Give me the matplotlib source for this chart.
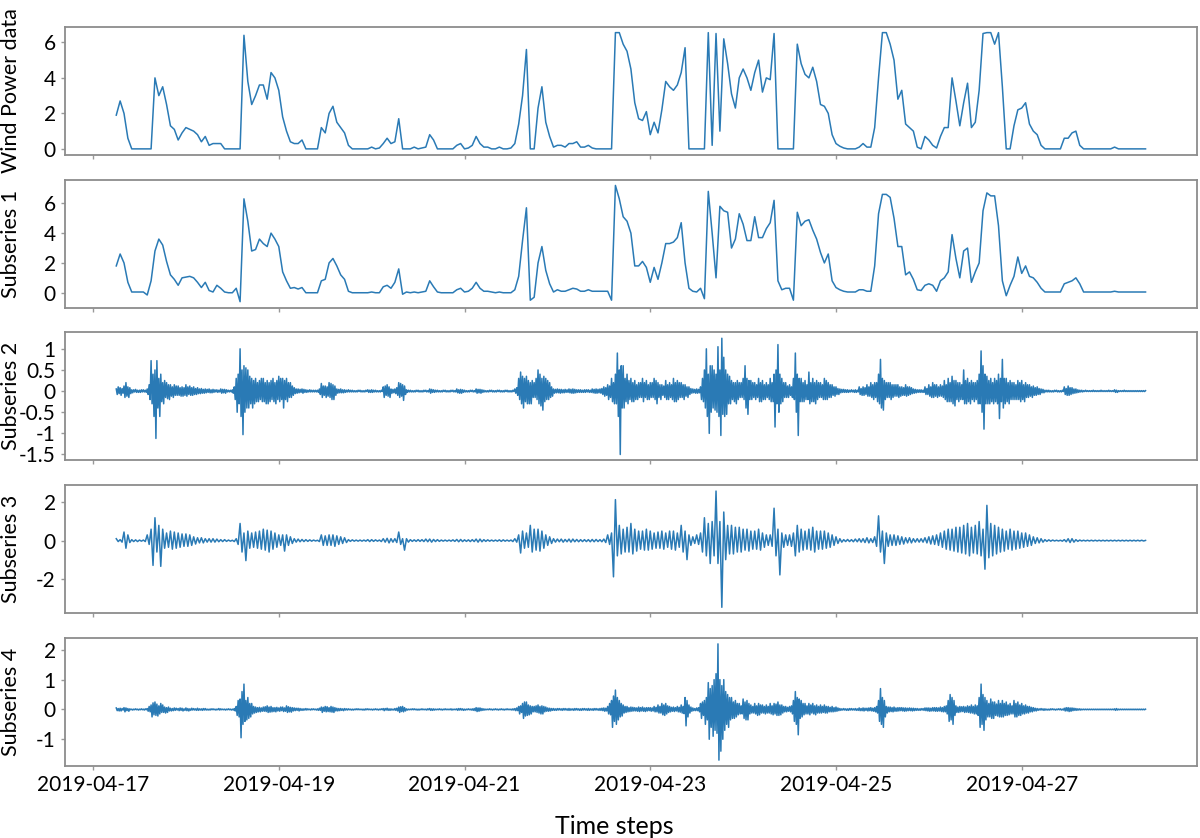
import matplotlib
matplotlib.use('Agg')
import matplotlib.pyplot as plt
import matplotlib.dates as mdates
import matplotlib.ticker as mticker
import numpy as np
import pandas as pd

plt.rcParams['font.family'] = ['Lato', 'DejaVu Sans']
plt.rcParams['axes.unicode_minus'] = False

start_time = '2019-04-17 06:00'

# wind power and the low-frequency subseries, hourly
wind_power = [
    1.9, 2.7, 2.0, 0.6, 0, 0, 0, 0, 0, 0, 4.0, 3.0,
    3.5, 2.5, 1.3, 1.1, 0.5, 0.9, 1.2, 1.1, 1.0, 0.8, 0.4, 0.7,
    0.2, 0.3, 0.3, 0.3, 0, 0, 0, 0, 0, 6.4, 3.8, 2.5,
    3.0, 3.6, 3.6, 2.8, 4.3, 4.0, 3.3, 1.8, 1.0, 0.4, 0.3, 0.3,
    0.5, 0, 0, 0, 0, 1.2, 0.9, 2.0, 2.4, 1.5, 1.2, 0.9,
    0.2, 0, 0, 0, 0, 0, 0.1, 0, 0.05, 0.3, 0.6, 0.3,
    0.4, 1.7, 0, 0, 0, 0.1, 0, 0.05, 0.1, 0.8, 0.5, 0,
    0, 0, 0, 0, 0.2, 0.3, 0, 0.05, 0.2, 0.7, 0.3, 0.1,
    0.1, 0, 0, 0.1, 0, 0, 0.05, 0.3, 1.4, 3.0, 5.6, 0,
    0, 2.3, 3.5, 1.5, 0.7, 0.1, 0.2, 0.2, 0.1, 0.3, 0.3, 0.4,
    0.1, 0.1, 0.2, 0.05, 0, 0, 0, 0, 0, 6.55, 6.55, 5.9,
    5.5, 4.5, 2.6, 1.7, 1.6, 2.1, 0.8, 1.5, 0.9, 2.2, 3.8, 3.5,
    3.3, 3.6, 4.3, 5.7, 0, 0, 0, 0, 0, 6.55, 0.2, 6.5,
    1.0, 6.2, 4.8, 3.1, 2.3, 4.0, 4.5, 4.0, 3.3, 4.3, 5.0, 3.2,
    4.0, 3.9, 6.5, 0, 0, 0, 0, 0, 5.9, 4.8, 4.2, 4.0,
    4.6, 3.8, 2.5, 2.4, 2.0, 0.8, 0.3, 0.15, 0.05, 0, 0, 0,
    0.1, 0.3, 0.1, 0.1, 1.2, 4.0, 6.55, 6.55, 5.9, 5.0, 2.8, 3.3,
    1.4, 1.2, 1.0, 0.1, 0, 0.7, 0.5, 0.2, 0.05, 0.7, 1.2, 1.2,
    4.0, 2.7, 1.3, 2.6, 3.7, 1.2, 1.5, 3.3, 6.5, 6.55, 6.55, 5.9,
    6.55, 3.5, 0, 0, 1.3, 2.2, 2.3, 2.6, 1.4, 1.0, 0.8, 0.2,
    0, 0, 0, 0, 0, 0.6, 0.6, 0.9, 1.0, 0.2, 0, 0,
    0, 0, 0, 0, 0, 0, 0.1, 0, 0, 0, 0, 0,
    0, 0, 0]

subseries_1 = [
    1.8, 2.6, 2.0, 0.7, 0.05, 0.05, 0.05, 0.05, -0.15, 0.8, 2.8, 3.6,
    3.2, 2.1, 1.2, 0.9, 0.5, 1.0, 1.05, 1.1, 1.0, 0.7, 0.35, 0.7,
    0.15, 0.05, 0.5, 0.3, 0.05, 0, 0, 0.3, -0.6, 6.3, 4.8, 2.8,
    2.9, 3.6, 3.3, 3.1, 4.0, 3.6, 3.1, 1.4, 0.8, 0.3, 0.35, 0.25,
    0.35, 0, 0, 0, 0, 0.8, 0.9, 2.0, 2.3, 1.8, 1.2, 0.9,
    0.1, 0, 0, 0, 0, 0, 0.05, 0, 0, 0.4, 0.5, 0.3,
    0.7, 1.6, -0.1, 0.05, 0, 0.05, 0, 0.05, 0.1, 0.8, 0.4, 0.05,
    0, 0, 0, 0, 0.2, 0.3, 0.05, 0.1, 0.3, 0.7, 0.3, 0.1,
    0.1, 0.05, 0, 0.05, 0, 0, 0, 0.2, 1.1, 3.5, 5.7, -0.5,
    -0.3, 2.0, 3.1, 1.5, 0.6, 0.05, 0.2, 0.1, 0.1, 0.2, 0.3, 0.25,
    0.1, 0.1, 0.2, 0.1, 0.1, 0.1, 0.1, 0.1, -0.5, 7.2, 6.3, 5.1,
    4.8, 4.0, 1.8, 1.8, 2.1, 1.7, 0.7, 1.7, 0.9, 2.0, 3.3, 3.3,
    3.4, 3.7, 4.7, 2.0, 0.3, 0.1, 0.05, 0.3, -0.4, 6.8, 4.0, 1.0,
    5.8, 5.5, 5.4, 3.0, 3.6, 5.3, 4.6, 3.5, 3.5, 5.1, 3.7, 3.7,
    4.3, 4.7, 6.2, 0.8, 0.2, 0.3, 0.3, -0.5, 5.4, 4.5, 4.8, 4.9,
    4.2, 3.6, 2.7, 2.0, 2.6, 0.8, 0.35, 0.2, 0.1, 0.05, 0.05, 0.05,
    0.2, 0.2, 0.1, 0.1, 1.8, 5.3, 6.6, 6.6, 6.4, 5.0, 3.1, 3.1,
    1.2, 1.4, 0.9, 0.2, 0.15, 0.5, 0.6, 0.5, 0.1, 0.8, 1.0, 1.4,
    3.9, 2.3, 1.0, 2.8, 3.0, 0.7, 1.4, 2.0, 5.5, 6.7, 6.5, 6.5,
    4.5, 0.8, -0.2, 0.5, 1.1, 2.4, 1.3, 1.8, 1.1, 1.0, 0.7, 0.3,
    0.05, 0.05, 0.05, 0.05, 0.05, 0.6, 0.7, 0.8, 1.0, 0.6, 0.05, 0.05,
    0.05, 0.05, 0.05, 0.05, 0.05, 0.05, 0.1, 0.05, 0.05, 0.05, 0.05, 0.05,
    0.05, 0.05, 0.05]

# high-frequency subseries, 15-min samples (values in units of 0.01)
subseries_2 = np.array([
    5, -8, 10, -6, 8, -10, 6, -5, 12, -15, 20, -12, 10, -15, 8, -6, 3, -4, 3, -2, 4, -3, 2, -3,
    2, -3, 3, -2, 3, -2, 2, -3, 5, -8, 15, -20, 72, -30, 40, -60, 50, -112, 72, -40, 30, -60, 40, -25,
    20, -30, 25, -15, 20, -18, 15, -20, 15, -12, 10, -15, 15, -10, 12, -10, 12, -10, 8, -12, 10, -12, 8, -10,
    15, -12, 10, -8, 12, -10, 8, -10, 10, -8, 6, -8, 8, -6, 5, -6, 6, -5, 4, -5, 5, -4, 4, -3,
    5, -4, 3, -4, 4, -3, 3, -2, 3, -3, 2, -2, 5, -5, 4, -4, 4, -5, 3, -2, 2, -2, 2, -2,
    3, -5, 10, -20, 30, -50, 40, -30, 100, -60, 50, -103, 60, -50, 55, -40, 50, -40, 35, -30, 30, -40, 25, -30,
    30, -25, 20, -25, 25, -20, 30, -25, 30, -25, 20, -30, 25, -30, 20, -25, 25, -20, 30, -25, 20, -30, 25, -20,
    35, -25, 30, -20, 30, -40, 25, -20, 30, -25, 20, -15, 20, -15, 12, -10, 8, -6, 5, -5, 5, -4, 4, -3,
    5, -5, 4, -3, 3, -3, 2, -2, 3, -2, 2, -2, 2, -2, 2, -2, 2, -3, 5, -8, 18, -15, 12, -10,
    12, -15, 10, -12, 20, -15, 18, -20, 15, -20, 12, -10, 5, -5, 4, -4, 5, -4, 3, -4, 3, -3, 2, -2,
    3, -2, 2, -2, 2, -2, 1, -2, 1, -2, 2, -1, 2, -2, 1, -2, 1, -2, 2, -1, 3, -3, 2, -3,
    3, -3, 2, -2, 2, -2, 1, -2, 1, -2, 2, -1, 10, -15, 12, -10, 15, -12, 10, -15, 5, -5, 4, -4,
    5, -6, 8, -10, 20, -15, 18, -12, 15, -22, 12, -8, 3, -3, 2, -2, 2, -2, 1, -2, 1, -2, 2, -1,
    2, -2, 1, -2, 1, -2, 2, -1, 2, -2, 1, -2, 5, -5, 4, -3, 3, -3, 2, -2, 2, -2, 1, -2,
    1, -2, 2, -1, 2, -2, 1, -2, 1, -2, 2, -1, 2, -2, 1, -2, 5, -4, 3, -5, 4, -5, 3, -3,
    2, -2, 1, -2, 1, -2, 2, -1, 2, -2, 1, -2, 5, -5, 4, -4, 4, -5, 3, -3, 2, -2, 1, -2,
    1, -2, 2, -1, 2, -2, 1, -2, 1, -2, 2, -1, 2, -2, 1, -2, 1, -2, 2, -1, 2, -2, 1, -2,
    1, -2, 2, -1, 5, -5, 8, -10, 30, -20, 45, -30, 35, -40, 30, -25, 35, -30, 25, -30, 20, -30, 25, -15,
    20, -15, 30, -20, 50, -30, 40, -35, 30, -45, 35, -25, 30, -20, 25, -20, 20, -15, 10, -12, 5, -5, 4, -4,
    5, -4, 4, -5, 4, -4, 3, -4, 4, -3, 3, -3, 5, -4, 4, -5, 5, -5, 4, -4, 3, -3, 3, -3,
    3, -3, 2, -3, 3, -3, 3, -2, 3, -3, 2, -3, 5, -4, 4, -5, 5, -5, 4, -4, 5, -5, 6, -8,
    10, -12, 8, -10, 15, -20, 12, -15, 30, -25, 20, -30, 40, -30, 90, -60, 50, -150, 60, -40, 60, -40, 30, -25,
    40, -30, 25, -20, 30, -25, 20, -25, 25, -20, 15, -20, 20, -15, 20, -15, 30, -25, 20, -15, 25, -20, 15, -20,
    20, -15, 20, -15, 30, -20, 25, -30, 20, -15, 15, -20, 15, -10, 12, -15, 25, -20, 15, -20, 20, -15, 15, -20,
    30, -25, 20, -25, 25, -20, 20, -15, 20, -15, 15, -20, 15, -12, 10, -15, 10, -8, 6, -5, 5, -4, 4, -5,
    5, -5, 4, -4, 10, -20, 30, -25, 50, -40, 100, -60, 40, -100, 60, -50, 60, -40, 50, -45, 40, -50, 105, -60,
    50, -105, 125, -55, 80, -60, 50, -55, 40, -30, 35, -30, 25, -20, 20, -25, 20, -30, 25, -20, 20, -15, 20, -15,
    30, -20, 60, -40, 30, -55, 25, -20, 25, -20, 20, -15, 20, -20, 15, -15, 30, -25, 20, -25, 25, -20, 15, -20,
    20, -15, 15, -20, 30, -25, 20, -25, 40, -85, 50, -30, 110, -50, 40, -30, 30, -25, 20, -15, 20, -15, 12, -15,
    15, -10, 10, -15, 30, -20, 90, -50, 40, -105, 30, -25, 30, -25, 20, -25, 25, -20, 15, -20, 45, -30, 20, -25,
    30, -25, 20, -30, 25, -20, 20, -15, 20, -15, 15, -20, 30, -20, 25, -20, 20, -15, 15, -15, 15, -10, 10, -12,
    10, -8, 6, -8, 5, -4, 4, -3, 4, -3, 3, -3, 3, -3, 2, -2, 3, -2, 2, -3, 3, -3, 2, -2,
    10, -8, 6, -10, 10, -10, 8, -8, 15, -12, 10, -12, 20, -15, 15, -20, 20, -15, 20, -25, 40, -30, 75, -40,
    30, -45, 25, -20, 20, -15, 20, -15, 20, -20, 15, -15, 15, -12, 15, -12, 15, -15, 10, -12, 10, -10, 8, -10,
    15, -12, 10, -10, 10, -8, 8, -6, 5, -5, 4, -4, 3, -3, 3, -3, 3, -3, 2, -3, 10, -8, 6, -8,
    15, -12, 10, -15, 20, -15, 15, -12, 15, -15, 10, -12, 15, -12, 12, -15, 25, -20, 15, -25, 30, -25, 20, -25,
    35, -30, 25, -35, 25, -20, 20, -25, 20, -20, 15, -20, 50, -30, 25, -30, 30, -25, 20, -30, 25, -20, 20, -25,
    20, -20, 25, -30, 40, -30, 95, -50, 60, -90, 40, -30, 35, -30, 25, -30, 30, -25, 20, -30, 30, -25, 25, -30,
    40, -65, 30, -25, 75, -40, 30, -30, 30, -25, 20, -30, 25, -20, 20, -20, 20, -20, 15, -20, 25, -20, 20, -25,
    25, -20, 15, -25, 20, -15, 15, -15, 15, -12, 10, -15, 12, -10, 8, -10, 10, -8, 6, -8, 5, -4, 4, -4,
    2, -2, 2, -2, 2, -2, 1, -2, 1, -2, 2, -1, 2, -2, 1, -2, 1, -2, 2, -1, 10, -8, 6, -10,
    12, -10, 8, -8, 8, -6, 5, -5, 5, -4, 3, -3, 2, -2, 2, -2, 1, -1, 2, -1, 1, -1, 1, -1,
    1, -1, 2, -1, 1, -1, 1, -1, 1, -1, 2, -1, 1, -1, 1, -1, 1, -1, 2, -1, 1, -1, 1, -1,
    3, -3, 2, -3, 1, -1, 1, -1, 1, -1, 2, -1, 1, -1, 1, -1, 1, -1, 1, -1, 1, -1, 1, -1,
    1, -1, 1, -1, 1, -1, 1, -1, 1]) * 0.01

# 30-min samples (values in units of 0.01)
subseries_3 = np.array([
    10, -5, 5, -8, 45, -40, 30, -10, 5, -5, 4, -5,
    3, -3, 3, -5, 30, -20, 60, -130, 120, -60, 80, -135,
    60, -40, 40, -35, 50, -45, 45, -40, 40, -35, 35, -30,
    35, -30, 30, -25, 20, -18, 15, -12, 15, -12, 10, -8,
    10, -8, 10, -8, 8, -6, 5, -5, 5, -4, 3, -3,
    2, -5, 10, -20, 90, -60, 40, -105, 50, -40, 40, -35,
    45, -40, 50, -45, 60, -50, 55, -60, 50, -45, 40, -35,
    30, -25, 30, -55, 30, -25, 20, -15, 10, -8, 8, -6,
    6, -5, 5, -4, 4, -3, 3, -2, 2, -5, 30, -25,
    25, -25, 30, -25, 30, -30, 25, -20, 20, -15, 15, -10,
    5, -4, 4, -3, 3, -3, 3, -3, 3, -3, 5, -5,
    5, -4, 4, -3, 3, -5, 10, -8, 12, -12, 10, -8,
    10, -10, 45, -20, 10, -50, 10, -8, 5, -4, 4, -4,
    5, -4, 5, -5, 8, -6, 8, -8, 6, -5, 5, -4,
    3, -3, 3, -3, 3, -3, 4, -4, 6, -6, 6, -5,
    4, -4, 4, -5, 5, -5, 8, -8, 8, -6, 5, -4,
    4, -3, 3, -3, 3, -3, 4, -4, 4, -3, 3, -3,
    3, -5, 10, -8, 30, -65, 50, -40, 40, -35, 80, -60,
    60, -50, 60, -55, 50, -40, 30, -25, 20, -15, 10, -8,
    8, -6, 8, -8, 6, -6, 8, -8, 8, -6, 6, -6,
    5, -5, 5, -5, 5, -6, 6, -6, 6, -5, 5, -6,
    8, -10, 30, -20, 40, -190, 215, -80, 80, -70, 60, -60,
    70, -60, 90, -70, 60, -55, 50, -45, 50, -50, 60, -50,
    50, -45, 40, -40, 45, -40, 50, -45, 40, -35, 50, -45,
    50, -50, 40, -35, 80, -60, 50, -100, 30, -25, 20, -15,
    30, -20, 40, -60, 120, -80, 90, -120, 100, -80, 260, -120,
    100, -350, 150, -100, 80, -70, 80, -70, 70, -60, 70, -60,
    60, -50, 60, -55, 50, -45, 50, -45, 60, -50, 40, -35,
    30, -25, 30, -30, 170, -80, 60, -180, 40, -35, 30, -25,
    30, -30, 40, -80, 80, -60, 60, -50, 50, -45, 60, -50,
    70, -60, 50, -45, 50, -45, 50, -40, 40, -35, 30, -25,
    20, -15, 10, -8, 5, -5, 6, -5, 5, -6, 8, -6,
    10, -8, 10, -10, 15, -12, 10, -10, 20, -30, 130, -60,
    50, -120, 40, -30, 30, -25, 30, -25, 25, -20, 20, -18,
    15, -12, 15, -12, 10, -8, 10, -8, 10, -8, 15, -12,
    20, -18, 25, -20, 30, -25, 40, -35, 50, -45, 60, -50,
    60, -55, 70, -60, 70, -65, 80, -70, 90, -80, 70, -65,
    80, -70, 100, -80, 60, -150, 185, -90, 90, -80, 80, -70,
    70, -60, 60, -55, 50, -45, 60, -50, 50, -45, 50, -40,
    40, -35, 40, -30, 30, -25, 20, -15, 15, -12, 10, -8,
    5, -4, 4, -3, 3, -2, 2, -2, 2, -3, 5, -6,
    10, -10, 10, -8, 5, -4, 3, -2, 2, -2, 2, -2,
    2, -2, 2, -2, 2, -2, 2, -2, 2, -2, 2, -2,
    2, -2, 2, -2, 2, -2, 2, -2, 2, -2, 2, -2,
    2, -2, 2, -2, 1]) * 0.01

# 15-min samples (values in units of 0.01)
subseries_4 = np.array([
    5, -4, 3, -5, 4, -5, 3, -2, 6, -8, 5, -4, 3, -6, 2, -1, 1, -2, 1, -1, 2, -1, 1, -2,
    1, -1, 2, -1, 1, -2, 2, -1, 3, -6, 10, -8, 15, -25, 22, -18, 25, -20, 18, -22, 12, -15, 20, -10,
    15, -10, 8, -12, 6, -10, 8, -5, 4, -5, 3, -4, 5, -3, 4, -2, 3, -4, 5, -3, 4, -5, 2, -3,
    5, -4, 3, -5, 2, -3, 4, -2, 3, -2, 2, -3, 4, -3, 2, -2, 2, -3, 3, -2, 3, -2, 1, -2,
    1, -2, 2, -1, 2, -1, 1, -2, 1, -1, 3, -2, 2, -1, 1, -1, 1, -2, 1, -1, 2, -1, 1, -2,
    1, -2, 3, -5, 10, -20, 30, -25, 35, -95, 60, -50, 85, -40, 30, -35, 40, -30, 20, -25, 20, -15, 10, -12,
    8, -10, 6, -8, 7, -8, 5, -6, 8, -6, 9, -7, 12, -10, 8, -9, 10, -8, 6, -7, 6, -8, 7, -5,
    5, -6, 8, -4, 8, -7, 5, -6, 12, -10, 9, -8, 7, -9, 6, -5, 5, -4, 4, -3, 4, -5, 3, -3,
    2, -3, 2, -2, 3, -2, 2, -1, 1, -2, 2, -1, 2, -1, 1, -2, 2, -3, 4, -3, 8, -10, 7, -6,
    10, -8, 9, -7, 6, -8, 10, -9, 8, -10, 6, -5, 4, -5, 3, -4, 3, -3, 2, -4, 3, -2, 2, -2,
    2, -1, 1, -2, 1, -2, 1, -1, 2, -1, 2, -1, 1, -1, 1, -2, 1, -2, 2, -1, 2, -1, 1, -1,
    1, -2, 1, -1, 2, -1, 1, -2, 1, -1, 2, -1, 3, -4, 3, -2, 4, -3, 2, -3, 2, -2, 1, -2,
    3, -3, 4, -5, 8, -10, 9, -7, 10, -8, 6, -5, 2, -2, 1, -1, 1, -1, 2, -1, 2, -1, 1, -2,
    1, -2, 1, -1, 2, -1, 1, -1, 1, -2, 2, -1, 3, -3, 2, -3, 2, -2, 1, -1, 1, -1, 2, -1,
    1, -2, 1, -1, 2, -1, 1, -1, 1, -1, 2, -2, 1, -1, 1, -1, 2, -3, 3, -2, 3, -2, 2, -3,
    1, -2, 1, -1, 2, -1, 1, -2, 2, -3, 3, -4, 6, -7, 5, -6, 5, -4, 3, -3, 2, -2, 1, -1,
    1, -1, 2, -1, 1, -2, 1, -1, 2, -1, 1, -2, 1, -1, 2, -1, 1, -2, 1, -1, 2, -1, 1, -1,
    1, -2, 2, -2, 3, -4, 5, -4, 10, -15, 12, -10, 20, -30, 25, -22, 25, -20, 15, -18, 12, -15, 10, -8,
    10, -8, 12, -10, 15, -12, 10, -15, 12, -15, 10, -8, 8, -6, 5, -6, 4, -5, 3, -3, 3, -3, 2, -3,
    3, -2, 3, -2, 2, -3, 3, -2, 3, -2, 2, -3, 3, -3, 2, -2, 2, -3, 3, -2, 3, -2, 2, -3,
    2, -3, 3, -2, 3, -2, 2, -3, 3, -3, 2, -2, 2, -3, 3, -2, 3, -2, 2, -3, 3, -3, 4, -4,
    5, -6, 4, -5, 10, -15, 20, -18, 30, -60, 45, -40, 65, -50, 40, -35, 30, -25, 20, -22, 15, -12, 10, -10,
    10, -8, 6, -7, 8, -6, 7, -5, 6, -5, 5, -6, 8, -7, 6, -5, 8, -6, 5, -7, 6, -5, 6, -4,
    6, -6, 5, -5, 10, -8, 7, -8, 15, -12, 10, -12, 20, -18, 15, -20, 20, -15, 12, -10, 10, -8, 7, -6,
    8, -7, 6, -5, 10, -8, 7, -9, 15, -12, 10, -14, 40, -55, 30, -25, 15, -12, 8, -6, 5, -4, 3, -4,
    5, -4, 6, -8, 20, -30, 25, -20, 30, -50, 40, -35, 90, -100, 70, -60, 80, -90, 100, -70, 120, -80, 220, -170,
    100, -140, 80, -100, 100, -70, 60, -50, 50, -60, 40, -35, 40, -30, 25, -30, 30, -25, 20, -18, 20, -15, 12, -15,
    35, -30, 25, -35, 30, -35, 20, -15, 15, -12, 10, -12, 20, -15, 12, -20, 20, -18, 15, -12, 15, -12, 10, -15,
    15, -12, 10, -12, 20, -15, 12, -18, 20, -15, 18, -20, 25, -20, 15, -18, 15, -12, 10, -8, 10, -8, 7, -6,
    10, -8, 12, -15, 30, -40, 60, -50, 40, -85, 35, -30, 30, -25, 20, -18, 20, -15, 12, -15, 20, -18, 15, -12,
    20, -15, 12, -18, 15, -12, 10, -12, 15, -12, 10, -10, 15, -12, 10, -12, 10, -8, 7, -8, 10, -8, 6, -7,
    8, -6, 5, -4, 3, -3, 2, -2, 3, -2, 2, -3, 2, -3, 3, -2, 3, -2, 2, -2, 3, -3, 2, -3,
    5, -4, 3, -4, 5, -5, 4, -3, 4, -5, 5, -4, 6, -5, 4, -6, 6, -8, 10, -12, 30, -40, 70, -50,
    40, -60, 30, -25, 10, -12, 8, -8, 8, -7, 6, -8, 8, -6, 5, -6, 6, -5, 6, -4, 6, -5, 5, -6,
    5, -5, 4, -4, 5, -4, 4, -5, 4, -4, 3, -3, 3, -3, 2, -3, 3, -2, 3, -3, 5, -4, 5, -5,
    5, -6, 4, -5, 6, -5, 6, -6, 6, -6, 5, -5, 8, -7, 6, -8, 10, -8, 12, -15, 30, -40, 50, -35,
    40, -50, 30, -20, 12, -10, 8, -10, 10, -8, 9, -7, 10, -10, 8, -9, 12, -10, 10, -12, 15, -12, 10, -15,
    15, -15, 12, -20, 40, -60, 85, -50, 50, -70, 40, -35, 30, -25, 20, -25, 35, -30, 25, -30, 25, -20, 18, -22,
    30, -25, 20, -25, 30, -25, 20, -20, 25, -20, 15, -18, 20, -15, 12, -15, 30, -25, 20, -25, 25, -20, 15, -20,
    20, -15, 12, -15, 15, -12, 10, -12, 10, -8, 7, -8, 6, -5, 4, -5, 3, -3, 2, -2, 3, -2, 2, -3,
    2, -2, 1, -2, 1, -2, 2, -1, 2, -1, 1, -2, 1, -1, 2, -1, 2, -2, 1, -2, 4, -5, 6, -5,
    6, -7, 5, -6, 5, -4, 4, -3, 3, -3, 2, -2, 2, -2, 1, -1, 1, -1, 1, -1, 1, -1, 1, -1,
    1, -1, 1, -1, 1, -1, 1, -1, 1, -1, 1, -1, 1, -1, 1, -1, 1, -1, 1, -1, 1, -1, 1, -1,
    2, -3, 3, -2, 1, -1, 1, -1, 1, -1, 1, -1, 1, -1, 1, -1, 1, -1, 1, -1, 1, -1, 1, -1,
    1, -1, 1, -1, 1, -1, 1, -1, 1]) * 0.01

series = [
    (wind_power, 'h', 'Wind Power data', 2),
    (subseries_1, 'h', 'Subseries 1', 2),
    (subseries_2, '15min', 'Subseries 2', 0.5),
    (subseries_3, '30min', 'Subseries 3', 2),
    (subseries_4, '15min', 'Subseries 4', 1),
]

fig, axes = plt.subplots(5, 1, figsize=(12, 8.38), dpi=100, sharex=True)
fig.subplots_adjust(left=0.054, right=0.9975, top=0.968, bottom=0.086, hspace=0.195)

for ax, (values, freq, label, step) in zip(axes, series):
    times = pd.date_range(start_time, periods=len(values), freq=freq)
    ax.plot(times, values, color='#2a7ab5', linewidth=1.1)
    ax.set_ylabel(label, fontsize=15.5)
    ax.yaxis.set_label_coords(-0.039, 0.5)
    ax.yaxis.set_major_locator(mticker.MultipleLocator(step))
    ax.yaxis.set_major_formatter(mticker.FormatStrFormatter('%g'))
    ax.tick_params(axis='both', labelsize=15, color='#999999', length=3, width=1)
    for spine in ax.spines.values():
        spine.set_color('#8c8c8c')
        spine.set_linewidth(1.3)

# date ticks on odd days: 04-17, 04-19, ...
axes[-1].xaxis.set_major_locator(mdates.DayLocator(bymonthday=range(17, 29, 2)))
axes[-1].xaxis.set_major_formatter(mdates.DateFormatter('%Y-%m-%d'))
axes[-1].set_xlabel('Time steps', fontsize=18, labelpad=10)
axes[-1].xaxis.set_label_coords(0.485, -0.38)

plt.savefig('out.png', dpi=100)
